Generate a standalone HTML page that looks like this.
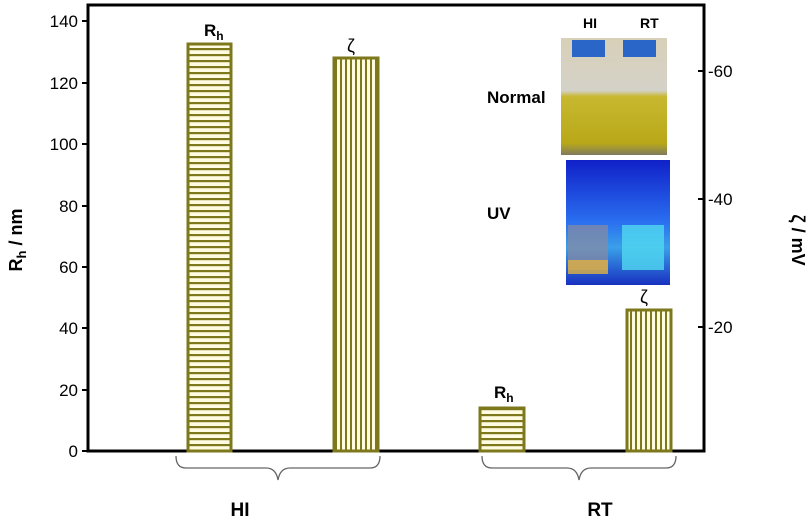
<!DOCTYPE html>
<html><head><meta charset="utf-8"><style>
body{margin:0;background:#fff}
svg{display:block;font-family:"Liberation Sans",Arial,sans-serif;font-weight:bold}
</style></head><body>
<svg width="810" height="523" viewBox="0 0 810 523">
<defs>
<pattern id="hz" width="6" height="6" patternUnits="userSpaceOnUse"><rect width="6" height="6" fill="#fffbe0"/><rect y="0" width="6" height="2.2" fill="#7d781c"/></pattern>
<pattern id="vt" width="5" height="6" patternUnits="userSpaceOnUse"><rect width="5" height="6" fill="#fffbe0"/><rect x="0" width="2" height="6" fill="#7d781c"/></pattern>
<linearGradient id="ny" x1="0" y1="0" x2="0" y2="1"><stop offset="0" stop-color="#d8d0b8"/><stop offset="0.45" stop-color="#d4d2c8"/><stop offset="0.5" stop-color="#c8b830"/><stop offset="0.9" stop-color="#b8a818"/><stop offset="1" stop-color="#807a60"/></linearGradient>
<linearGradient id="uv" x1="0" y1="0" x2="0" y2="1"><stop offset="0" stop-color="#1020c8"/><stop offset="0.5" stop-color="#2a70f0"/><stop offset="0.7" stop-color="#3aa0e8"/><stop offset="1" stop-color="#1830c0"/></linearGradient>
</defs>
<rect x="88" y="5" width="616" height="446" fill="none" stroke="#000" stroke-width="3"/>
<g stroke="#000" stroke-width="2">
<line x1="82" y1="451" x2="88" y2="451"/><line x1="82" y1="390" x2="88" y2="390"/><line x1="82" y1="328" x2="88" y2="328"/><line x1="82" y1="267" x2="88" y2="267"/><line x1="82" y1="206" x2="88" y2="206"/><line x1="82" y1="144" x2="88" y2="144"/><line x1="82" y1="83" x2="88" y2="83"/><line x1="82" y1="21" x2="88" y2="21"/>
<line x1="704" y1="71" x2="698" y2="71"/><line x1="704" y1="199" x2="698" y2="199"/><line x1="704" y1="327" x2="698" y2="327"/>
</g>
<g font-size="17" text-anchor="end" font-weight="normal">
<text x="78" y="457">0</text><text x="78" y="396">20</text><text x="78" y="334">40</text><text x="78" y="273">60</text><text x="78" y="212">80</text><text x="78" y="150">100</text><text x="78" y="89">120</text><text x="78" y="27">140</text>
</g>
<g font-size="17" font-weight="normal"><text x="708" y="77">-60</text><text x="708" y="205">-40</text><text x="708" y="333">-20</text></g>
<text transform="translate(22,240) rotate(-90)" font-size="18" text-anchor="middle">R<tspan font-size="13" dy="4">h</tspan><tspan dy="-4"> / nm</tspan></text>
<text transform="translate(792,240) rotate(90)" font-size="18" text-anchor="middle">ζ / mV</text>
<rect x="188" y="44" width="43" height="407" fill="url(#hz)" stroke="#7d781c" stroke-width="3"/>
<rect x="334" y="58" width="44" height="393" fill="url(#vt)" stroke="#7d781c" stroke-width="3"/>
<rect x="480" y="408" width="44" height="43" fill="url(#hz)" stroke="#7d781c" stroke-width="3"/>
<rect x="627" y="310" width="44" height="141" fill="url(#vt)" stroke="#7d781c" stroke-width="3"/>
<text x="204" y="36" font-size="17">R<tspan font-size="12" dy="4">h</tspan></text>
<text x="347" y="52" font-size="18" font-weight="normal">ζ</text>
<text x="494" y="398" font-size="17">R<tspan font-size="12" dy="4">h</tspan></text>
<text x="640" y="303" font-size="18" font-weight="normal">ζ</text>
<text x="583" y="28" font-size="14">HI</text><text x="640" y="28" font-size="14">RT</text>
<rect x="561" y="38" width="106" height="117" fill="url(#ny)"/>
<rect x="572" y="40" width="33" height="17" fill="#2a66c8"/><rect x="623" y="40" width="33" height="17" fill="#2a66c8"/>
<rect x="566" y="160" width="104" height="125" fill="url(#uv)"/>
<rect x="568" y="225" width="40" height="45" fill="#8a8aa0" opacity="0.7"/>
<rect x="568" y="260" width="40" height="14" fill="#e0b040" opacity="0.8"/>
<rect x="622" y="225" width="42" height="45" fill="#50d8f0" opacity="0.8"/>
<text x="487" y="103" font-size="17">Normal</text>
<text x="487" y="219" font-size="17">UV</text>
<g fill="none" stroke="#666" stroke-width="1.3">
<path d="M176 456 q0 12 10 12 h80 q10 0 12 12 q2-12 12-12 h80 q10 0 10-12"/>
<path d="M482 456 q0 12 10 12 h75 q10 0 12 12 q2-12 12-12 h75 q10 0 10-12"/>
</g>
<text x="240" y="516" font-size="19" text-anchor="middle">HI</text>
<text x="600" y="516" font-size="19" text-anchor="middle">RT</text>
</svg>
</body></html>
